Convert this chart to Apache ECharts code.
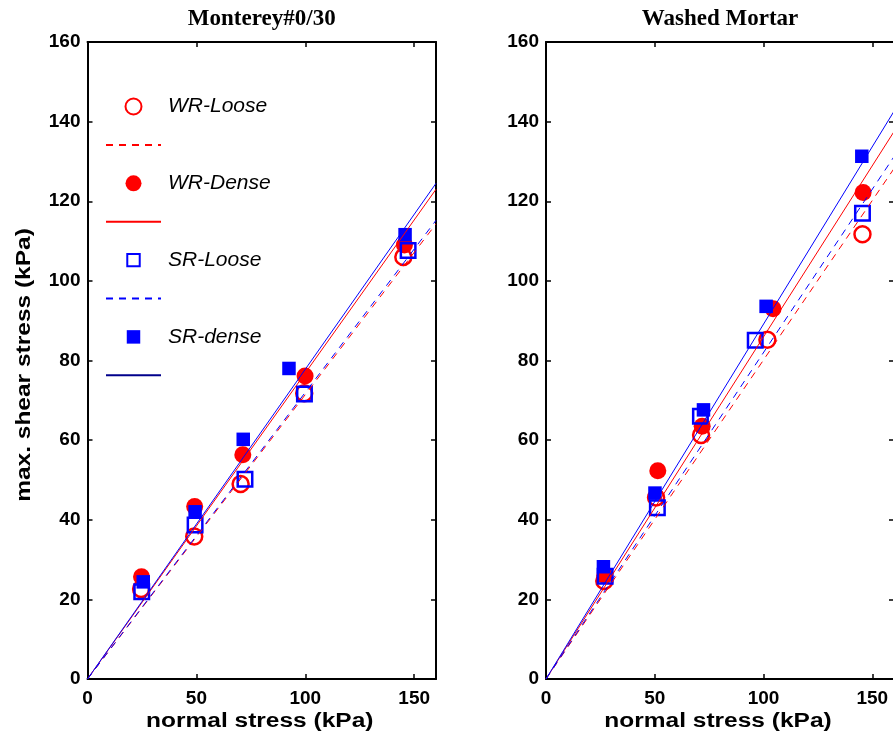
<!DOCTYPE html>
<html>
<head>
<meta charset="utf-8">
<title>Shear strength envelopes</title>
<script src="https://cdn.jsdelivr.net/npm/echarts@6/dist/echarts.min.js"></script>
<style>
  html, body { margin: 0; padding: 0; background: #ffffff; }
  #chart { width: 893px; height: 740px; }
</style>
</head>
<body>
<div id="chart"></div>
<script>
// ---- Tick values -------------------------------------------------------
const xTicks = [0, 50, 100, 150];
const yTicks = [0, 20, 40, 60, 80, 100, 120, 140, 160];

// ---- Panel titles ------------------------------------------------------
const panelTitles = ['Monterey#0/30', 'Washed Mortar'];

// ---- Series names and legend labels -------------------------------------
const seriesNames = ['WR-Loose', 'WR-Dense', 'SR-Loose', 'SR-dense'];
const fitNames = ['WR-Loose fit', 'WR-Dense fit', 'SR-Loose fit', 'SR-dense fit'];

// ---- Monterey #0/30 : normal stress (kPa) vs max. shear stress (kPa) ----
const monWRLooseX = [24.6, 49.0, 70.3, 99.5, 145.0];
const monWRLooseY = [22.6, 35.8, 49.0, 71.8, 106.0];
const monWRDenseX = [24.8, 49.2, 71.3, 99.9, 145.5];
const monWRDenseY = [25.7, 43.3, 56.3, 76.1, 109.0];
const monSRLooseX = [24.9, 49.4, 72.3, 99.6, 147.2];
const monSRLooseY = [21.9, 38.7, 50.2, 71.6, 107.6];
const monSRDenseX = [25.6, 49.4, 71.5, 92.5, 145.8];
const monSRDenseY = [24.4, 42.0, 60.2, 78.0, 111.6];

// ---- Washed Mortar -------------------------------------------------------
const wmWRLooseX = [26.8, 50.6, 71.3, 101.8, 145.5];
const wmWRLooseY = [24.6, 45.6, 61.3, 85.2, 111.7];
const wmWRDenseX = [27.0, 51.4, 71.8, 104.4, 145.8];
const wmWRDenseY = [26.0, 52.3, 63.5, 93.0, 122.2];
const wmSRLooseX = [27.2, 51.2, 71.0, 96.2, 145.5];
const wmSRLooseY = [25.8, 43.0, 66.0, 85.1, 117.0];
const wmSRDenseX = [26.4, 50.1, 72.4, 101.2, 145.2];
const wmSRDenseY = [28.2, 46.7, 67.6, 93.6, 131.3];

// ---- Failure envelopes through the origin: shear stress at x = 160 kPa ----
// order: WR-Loose, WR-Dense, SR-Loose, SR-dense
const fitX = [0, 160];
const monFitEnd = [114.3, 123.0, 115.2, 124.5];
const wmFitEnd = [128.2, 137.5, 131.2, 142.6];

// ---- Styling ---------------------------------------------------------------
const RED = '#ff0000';
const BLUE = '#0000ff';
const SANS = '"Liberation Sans", Arial, Helvetica, sans-serif';
const SERIF = '"Liberation Serif", "Times New Roman", serif';
const DASH = [7, 6];

const markerStyles = [
  { symbol: 'circle', size: 16, itemStyle: { color: 'rgba(0,0,0,0)', borderColor: RED, borderWidth: 2.5, opacity: 1 } },
  { symbol: 'circle', size: 17, itemStyle: { color: RED, borderColor: RED, borderWidth: 0, opacity: 1 } },
  { symbol: 'rect', size: 14.5, itemStyle: { color: 'rgba(0,0,0,0)', borderColor: BLUE, borderWidth: 2.5, opacity: 1 } },
  { symbol: 'rect', size: 13.5, itemStyle: { color: BLUE, borderColor: BLUE, borderWidth: 0, opacity: 1 } }
];
const fitStyles = [
  { color: RED, type: DASH },
  { color: RED, type: 'solid' },
  { color: BLUE, type: DASH },
  { color: BLUE, type: 'solid' }
];

// plot rectangles
const grids = [
  { left: 87.5, top: 42, width: 348.5, height: 637 },
  { left: 546, top: 42, width: 348, height: 637 }
];

const panelData = [
  {
    xs: [monWRLooseX, monWRDenseX, monSRLooseX, monSRDenseX],
    ys: [monWRLooseY, monWRDenseY, monSRLooseY, monSRDenseY],
    fit: monFitEnd
  },
  {
    xs: [wmWRLooseX, wmWRDenseX, wmSRLooseX, wmSRDenseX],
    ys: [wmWRLooseY, wmWRDenseY, wmSRLooseY, wmSRDenseY],
    fit: wmFitEnd
  }
];

function pairs(xs, ys) {
  return xs.map((x, i) => [x, ys[i]]);
}

const axisLineStyle = { show: true, onZero: false, lineStyle: { color: '#000', width: 2 } };
const tickStyle = { color: '#000', width: 1.5 };
const tickLabelStyle = { color: '#000', fontFamily: SANS, fontWeight: 'bold', fontSize: 19 };

const xAxes = [];
const yAxes = [];
grids.forEach((g, gi) => {
  ['bottom', 'top'].forEach(pos => {
    xAxes.push({
      type: 'value', gridIndex: gi, position: pos, min: 0, max: 160,
      axisLine: axisLineStyle,
      axisTick: { show: true, inside: true, length: 5, lineStyle: tickStyle, customValues: xTicks },
      axisLabel: Object.assign({ show: pos === 'bottom', margin: 10, customValues: xTicks }, tickLabelStyle),
      splitLine: { show: false }
    });
  });
  ['left', 'right'].forEach(pos => {
    yAxes.push({
      type: 'value', gridIndex: gi, position: pos, min: 0, max: 160, interval: 20,
      axisLine: axisLineStyle,
      axisTick: { show: true, inside: true, length: 5, lineStyle: tickStyle, customValues: yTicks },
      axisLabel: Object.assign({ show: pos === 'left', margin: 7, customValues: yTicks }, tickLabelStyle),
      splitLine: { show: false }
    });
  });
});

const series = [];
panelData.forEach((pd, gi) => {
  seriesNames.forEach((name, k) => {
    const m = markerStyles[k];
    series.push({
      type: 'scatter', name: name,
      xAxisIndex: gi * 2, yAxisIndex: gi * 2,
      data: pairs(pd.xs[k], pd.ys[k]),
      symbol: m.symbol, symbolSize: m.size,
      itemStyle: m.itemStyle,
      emphasis: { disabled: true },
      z: 2, silent: true
    });
  });
  fitNames.forEach((name, k) => {
    series.push({
      type: 'line', name: name,
      xAxisIndex: gi * 2, yAxisIndex: gi * 2,
      data: [[fitX[0], 0], [fitX[1], pd.fit[k]]],
      symbol: 'none',
      lineStyle: { color: fitStyles[k].color, width: 1, type: fitStyles[k].type },
      emphasis: { disabled: true },
      z: 3, silent: true
    });
  });
});

// legend entries: a marker row followed by its fit-line row
const legendData = [];
seriesNames.forEach((name, k) => {
  const item = { name: name };
  if (k === 2) item.icon = 'path://M0,0M2,2L16,2L16,16L2,16ZM18,18';
  if (k === 3) item.icon = 'path://M0,0M1.5,1.5L17.5,1.5L17.5,17.5L1.5,17.5ZM19,19';
  legendData.push(item);
  const fitItem = { name: fitNames[k], itemStyle: { opacity: 0, color: 'rgba(0,0,0,0)', borderWidth: 0 } };
  if (k === 3) fitItem.lineStyle = { color: '#00008b' };
  legendData.push(fitItem);
});

const graphic = [];
grids.forEach((g, gi) => {
  graphic.push({
    type: 'text', x: g.left + g.width / 2, y: 19,
    style: { text: panelTitles[gi], font: 'bold 23px ' + SERIF, fill: '#000', align: 'center', verticalAlign: 'middle' }
  });
  graphic.push({
    type: 'text', x: g.left + g.width / 2 - 2, y: 721, scaleX: 1.225,
    style: { text: 'normal stress (kPa)', font: 'bold 20px ' + SANS, fill: '#000', align: 'center', verticalAlign: 'middle' }
  });
});
graphic.push({
  type: 'text', x: 24, y: 365, rotation: Math.PI / 2, scaleX: 1.225,
  style: { text: 'max. shear stress (kPa)', font: 'bold 20px ' + SANS, fill: '#000', align: 'center', verticalAlign: 'middle' }
});

const chart = echarts.init(document.getElementById('chart'), null, { renderer: 'canvas' });
chart.setOption({
  animation: false,
  backgroundColor: '#ffffff',
  grid: grids.map(g => Object.assign({ containLabel: false, outerBoundsMode: 'none' }, g)),
  xAxis: xAxes,
  yAxis: yAxes,
  legend: {
    show: true, orient: 'vertical', left: 105, top: 96,
    itemWidth: 55, itemHeight: 16, itemGap: 21.5,
    selectedMode: false, padding: 0,
    textStyle: { fontFamily: SANS, fontStyle: 'italic', fontSize: 21, color: '#000', lineHeight: 16, padding: [0, 0, 0, 2] },
    formatter: name => (seriesNames.indexOf(name) >= 0 ? name : ''),
    data: legendData
  },
  tooltip: { show: false },
  graphic: graphic,
  series: series
});
</script>
</body>
</html>
